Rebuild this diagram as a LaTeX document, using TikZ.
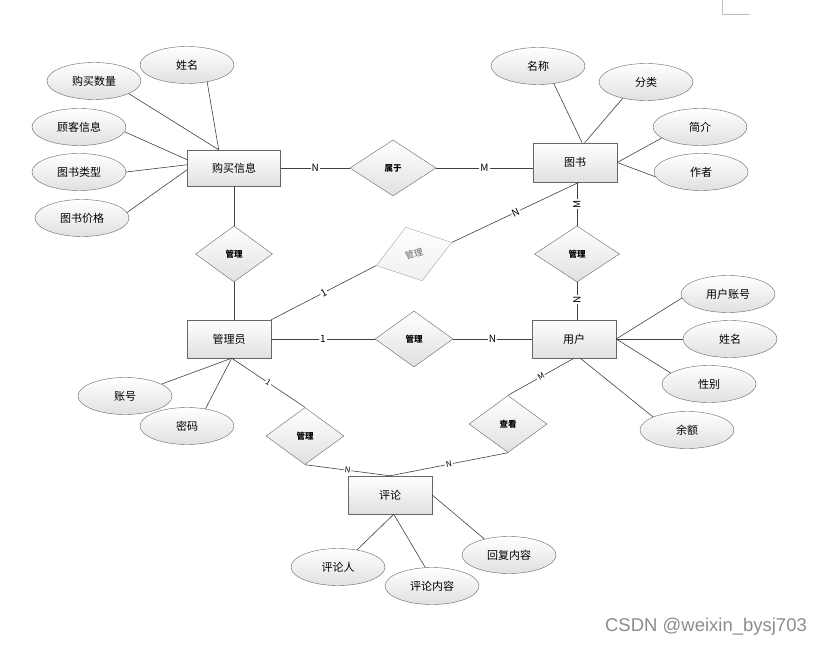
\documentclass[tikz,border=0pt]{standalone}
\usepackage{fontspec}
\newfontfamily\cjk{Noto Sans CJK SC}
\newfontfamily\wmfont{Liberation Sans}
\usetikzlibrary{shapes.geometric}
\tikzset{
  entity/.style={draw=black!60, top color=white, bottom color=black!12, minimum width=84pt, minimum height=38pt, inner sep=0pt, font=\cjk\fontsize{11}{13}\selectfont},
  attr/.style={ellipse, draw=black!60, top color=white, bottom color=black!12, minimum width=94pt, minimum height=37pt, inner sep=0pt, font=\cjk\fontsize{11}{13}\selectfont},
  rel/.style={diamond, draw=black!60, top color=white, bottom color=black!12, minimum width=78pt, minimum height=56pt, inner sep=0pt, font=\cjk\bfseries\fontsize{8.5}{10}\selectfont},
  card/.style={fill=white, inner sep=1pt, font=\cjk\fontsize{10}{11}\selectfont},
  smallcard/.style={card, font=\cjk\fontsize{8}{9}\selectfont},
  link/.style={draw=black!75, line width=0.6pt}
}

\begin{document}
\begin{tikzpicture}[x=1pt, y=1pt]
	%%%%% START %%%%%
	\useasboundingbox (0,0) rectangle (824,646);
	
	\node[entity, minimum width=93pt, minimum height=36pt] (buy) at (234,478) {购买信息};
	\node[entity, minimum height=39pt] (book) at (575,483.5) {图书};
	\node[entity] (admin) at (229,307) {管理员};
	\node[entity] (user) at (574,307) {用户};
	\node[entity] (review) at (390,151) {评论};
	
	\node[rel, minimum width=86pt] (belong) at (393,478) {属于};
	\node[rel, minimum width=77pt] (mbuy) at (234,392) {管理};
	\node[rel, minimum width=79pt, draw=black!35, bottom color=black!6, text=black!60, rotate=17, font=\cjk\fontsize{9}{10}\selectfont] (mgray) at (414,392) {管理};
	\node[rel, minimum width=85pt] (mbook) at (577,392) {管理};
	\node[rel] (muser) at (414,307) {管理};
	\node[rel, minimum height=57pt] (mreview) at (305,210) {管理};
	\node[rel, minimum height=57pt] (look) at (508,222) {查看};
	
	\node[attr] (buyname) at (187,581) {姓名};
	\node[attr] (buyqty) at (94,565) {购买数量};
	\node[attr] (buycust) at (79,519) {顾客信息};
	\node[attr] (buytype) at (79,474) {图书类型};
	\node[attr] (buyprice) at (82,428) {图书价格};
	
	\node[attr] (bookname) at (538,580) {名称};
	\node[attr] (bookcat) at (646,564) {分类};
	\node[attr] (bookintro) at (700,519) {简介};
	\node[attr] (bookauthor) at (701,474) {作者};
	
	\node[attr] (useracc) at (728,352) {用户账号};
	\node[attr] (username) at (730,307) {姓名};
	\node[attr] (usersex) at (709,262) {性别};
	\node[attr] (userbal) at (687,216) {余额};
	
	\node[attr] (adminacc) at (125,250) {账号};
	\node[attr] (adminpwd) at (187,220) {密码};
	
	\node[attr] (revuser) at (338,79) {评论人};
	\node[attr] (revtext) at (432,60) {评论内容};
	\node[attr] (revreply) at (509,91) {回复内容};
	
	% attribute lines
	\draw[link] (buyname.-40) -- (buy.130);
	\draw[link] (buyqty.-20) -- (buy.130);
	\draw[link] (buycust.-6) -- (buy.170);
	\draw[link] (buytype.east) -- (buy.176);
	\draw[link] (buyprice.7) -- (buy.182);
	
	\draw[link] (bookname.-48) -- (book.70);
	\draw[link] (bookcat.-145) -- (book.64);
	\draw[link] (bookintro.-164) -- (book.east);
	\draw[link] (bookauthor.-174) -- (book.east);
	
	\draw[link] (useracc.185) -- (user.east);
	\draw[link] (username.west) -- (user.east);
	\draw[link] (usersex.164) -- (user.east);
	\draw[link] (userbal.159) -- (user.-72);
	
	\draw[link] (adminacc.18) -- (admin.-82);
	\draw[link] (adminpwd.43) -- (admin.-82);
	
	\draw[link] (revuser.42) -- (review.-79);
	\draw[link] (revtext.110) -- (review.-79);
	\draw[link] (revreply.147) -- (review.east);
	
	% relationship lines
	\draw[link] (buy.east) -- node[card] {N} (belong.west);
	\draw[link] (belong.east) -- node[card] {M} (belong.east -| book.west);
	\draw[link] (buy.south) -- (mbuy.north);
	\draw[link] (mbuy.south) -- (mbuy.south |- admin.north);
	\draw[link] (admin.north east) -- node[card, sloped] {1} (mgray.west);
	\draw[link] (mgray.east) -- node[card, sloped] {N} (book.-78);
	\draw[link] (mbook.north |- book.south) -- node[card, rotate=90] {M} (mbook.north);
	\draw[link] (mbook.south) -- node[card, rotate=90, pos=0.47] {N} (mbook.south |- user.north);
	\draw[link] (admin.east) -- node[card] {1} (muser.west);
	\draw[link] (muser.east) -- node[card] {N} (user.west);
	\draw[link] (admin.-82) -- node[smallcard, sloped] {1} (mreview.north);
	\draw[link] (mreview.south) -- node[smallcard, sloped] {N} (review.north);
	\draw[link] (look.north) -- node[smallcard, sloped] {M} (user.south);
	\draw[link] (look.south) -- node[smallcard, sloped] {N} (review.north);
	
	\draw[black!25] (722,646) -- (722,632) -- (750,632);
	\node[text=black!45, font=\wmfont\fontsize{18.5}{20}\selectfont] (mark) at (706,19) {CSDN @weixin\_bysj703};
	
	%%%%% END %%%%%
\end{tikzpicture}
\end{document}
